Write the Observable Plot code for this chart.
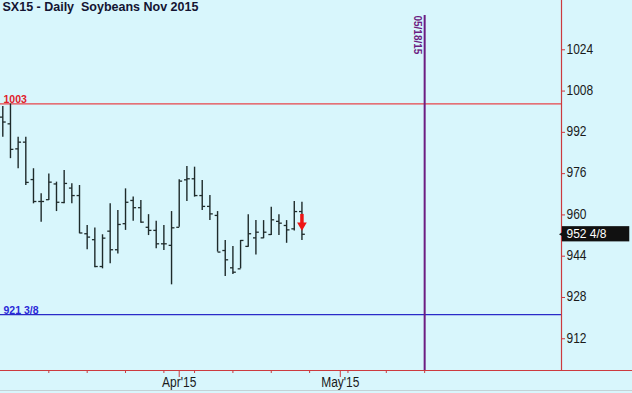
<!DOCTYPE html>
<html><head><meta charset="utf-8">
<script src="https://cdn.jsdelivr.net/npm/d3@7"></script>
<script src="https://cdn.jsdelivr.net/npm/@observablehq/plot@0.6"></script>
<style>html,body{margin:0;padding:0;background:#d8f6fc;overflow:hidden}</style>
</head><body><div id="chart"></div>
<script>
const title = "SX15 - Daily  Soybeans Nov 2015";
const dates = ["2015-02-27","2015-03-02","2015-03-03","2015-03-04","2015-03-05","2015-03-06",
  "2015-03-09","2015-03-10","2015-03-11","2015-03-12","2015-03-13",
  "2015-03-16","2015-03-17","2015-03-18","2015-03-19","2015-03-20",
  "2015-03-23","2015-03-24","2015-03-25","2015-03-26","2015-03-27",
  "2015-03-30","2015-03-31","2015-04-01","2015-04-02",
  "2015-04-06","2015-04-07","2015-04-08","2015-04-09","2015-04-10",
  "2015-04-13","2015-04-14","2015-04-15","2015-04-16","2015-04-17",
  "2015-04-20","2015-04-21","2015-04-22","2015-04-23","2015-04-24"];
const open  = [997.9,995.3,985.6,988.2,973.7,965.2,965.9,972.0,964.8,970.4,967.5,952.7,950.4,940.0,953.7,946.5,956.6,965.6,962.8,955.2,954.0,948.8,948.2,955.2,973.6,974.0,967.5,963.3,959.8,946.2,939.5,939.1,947.8,951.1,951.1,952.4,957.5,955.9,954.6,961.3];
const high  = [1002.0,1003.0,990.1,990.1,977.9,968.2,975.9,972.7,977.2,972.1,971.4,955.9,954.9,952.3,964.3,961.7,970.1,966.9,965.6,960.1,957.5,955.9,961.3,973.6,978.8,978.5,973.3,967.5,961.3,950.1,947.8,950.1,960.1,957.8,957.8,963.0,960.1,957.8,965.2,964.9];
const low   = [990.1,981.8,977.9,971.4,964.3,957.2,965.6,961.3,964.3,964.3,952.7,946.5,939.5,939.1,941.1,944.9,954.0,957.5,956.8,952.0,946.9,946.2,932.9,955.2,965.2,966.9,961.7,957.8,945.6,936.1,936.9,939.1,947.5,944.5,950.8,952.0,952.0,949.0,953.8,950.1];
const close = [996.0,985.4,988.2,972.6,965.2,965.2,972.7,964.9,972.2,967.5,953.0,951.4,940.0,951.0,946.5,956.3,964.9,962.8,957.2,954.0,948.8,948.8,955.0,973.1,974.0,967.5,963.3,960.4,945.6,942.6,937.8,950.1,952.7,953.3,953.3,958.1,956.8,954.2,961.3,952.5];
const holidays = ["2015-04-03"];
const yTicks = [912, 928, 944, 960, 976, 992, 1008, 1024];
const weekTicks = ["2015-03-09","2015-03-16","2015-03-23","2015-03-30","2015-04-06","2015-04-13","2015-04-20","2015-04-27","2015-05-04","2015-05-11","2015-05-18"];
const monthTicks = ["2015-04-01","2015-05-01"];
const monthLabels = ["Apr'15","May'15"];
const highLine = 1003, highLabel = "1003";
const lowLine = 921.375, lowLabel = "921 3/8";
const markerDate = "2015-05-18", markerLabel = "05/18/15", markerTop = 1037.3;
const lastLabel = "952 4/8";
const arrowFrom = 960.2, arrowTo = 956.6, arrowHead = 956.0;

// trading-day calendar (weekdays without exchange holidays)
const cal = [];
for (let d = new Date(Date.UTC(2015, 1, 27)); cal.length < 100; d.setUTCDate(d.getUTCDate() + 1)) {
  const s = d.toISOString().slice(0, 10), wd = d.getUTCDay();
  if (wd === 0 || wd === 6 || holidays.includes(s)) continue;
  cal.push(s);
}
const idx = s => cal.indexOf(s);
const bars = dates.map((d, k) => ({x: idx(d), o: open[k], h: high[k], l: low[k], c: close[k]}));
const last = bars[bars.length - 1];
const weekIdx = weekTicks.map(idx), monthIdx = monthTicks.map(idx);

const xDom = [-0.3, 72.84], yDom = [899.7, 1043.1];
const sans = "'Liberation Sans',Arial,sans-serif";
const axisRed = "#cc3a3e", barCol = "#1e2a2a", purple = "#6c1d82";

const chart = Plot.plot({
  width: 632, height: 393,
  marginTop: 0, marginLeft: 0, marginRight: 71, marginBottom: 23,
  style: {background: "#d8f6fc", fontFamily: sans, fontSize: "12px", color: "#111", overflow: "visible"},
  x: {type: "linear", domain: xDom, axis: null},
  y: {domain: yDom, axis: null},
  marks: [
    Plot.ruleY([yDom[0] - 7.75], {x1: xDom[0], x2: 83, stroke: "#c4d2d6", strokeWidth: 1}),
    Plot.ruleY([highLine], {x1: xDom[0], x2: xDom[1], stroke: "#e8454a", strokeWidth: 1.3}),
    Plot.ruleY([lowLine], {x1: xDom[0], x2: xDom[1], stroke: "#2a2ac8", strokeWidth: 1.2}),
    Plot.text([highLabel], {x: xDom[0], y: highLine, text: d => d, dx: 3, dy: -1, textAnchor: "start", lineAnchor: "bottom", fill: "#e0202a", fontWeight: "bold", fontSize: 10.5, fontFamily: sans}),
    Plot.text([lowLabel], {x: xDom[0], y: lowLine, text: d => d, dx: 3, dy: -1, textAnchor: "start", lineAnchor: "bottom", fill: "#2a2ad8", fontWeight: "bold", fontSize: 10.5, fontFamily: sans}),
    Plot.ruleX([idx(markerDate)], {y1: markerTop, y2: yDom[0], stroke: purple, strokeWidth: 2}),
    Plot.text([markerLabel], {x: idx(markerDate), y: markerTop, text: d => d, dx: -7, rotate: 90, textAnchor: "start", lineAnchor: "middle", fill: purple, fontWeight: "bold", fontSize: 10, fontFamily: sans}),
    Plot.ruleX(bars, {x: "x", y1: "l", y2: "h", stroke: barCol, strokeWidth: 1.4}),
    Plot.link(bars, {x1: d => d.x - 0.38, x2: "x", y1: "o", y2: "o", stroke: barCol, strokeWidth: 1.3}),
    Plot.link(bars, {x1: "x", x2: d => d.x + 0.38, y1: "c", y2: "c", stroke: barCol, strokeWidth: 1.3}),
    Plot.ruleX([last], {x: "x", y1: arrowFrom, y2: arrowTo, stroke: "#ee1515", strokeWidth: 3.5}),
    Plot.dot([last], {x: "x", y: arrowHead, symbol: "triangle", rotate: 180, r: 3.6, fill: "#ee1515"}),
    Plot.ruleX([xDom[1]], {y1: yDom[0], y2: yDom[1], stroke: axisRed, strokeWidth: 1.2}),
    Plot.ruleY([yDom[0]], {x1: xDom[0], x2: 83, stroke: axisRed, strokeWidth: 1.2}),
    Plot.axisY(yTicks, {anchor: "right", label: null, tickSize: 3, tickPadding: 2, stroke: axisRed, fill: "#1a1a1a", fontSize: 12, fontFamily: sans, tickFormat: d => String(d)}),
    Plot.axisX(weekIdx, {anchor: "bottom", label: null, tickSize: 3, stroke: axisRed, tickFormat: () => ""}),
    Plot.axisX(monthIdx, {anchor: "bottom", label: null, tickSize: 7, tickPadding: 1, stroke: axisRed, fill: "#1a1a1a", fontSize: 12, fontFamily: sans, tickFormat: d => monthLabels[monthIdx.indexOf(d)]}),
    Plot.rect([last], {x1: xDom[1] + 0.12, x2: xDom[1] + 8.9, y1: d => d.c - 2.95, y2: d => d.c + 2.95, fill: "#111"}),
    Plot.dot([last], {x: xDom[1], y: "c", symbol: "triangle", rotate: -90, r: 2.6, fill: "#111", dx: 1.5}),
    Plot.text([last], {x: xDom[1], y: "c", text: () => lastLabel, dx: 5, textAnchor: "start", fill: "#fff", fontSize: 12, fontFamily: sans, ariaLabel: "last-price"}),
    Plot.text([title], {frameAnchor: "top-left", dx: 2, dy: 2, lineAnchor: "top", fontWeight: "bold", fontSize: 12.5, fill: "#141432", fontFamily: sans})
  ]
});
// stretch the narrow, tall axis lettering of the reference vertically (about its own anchor)
const toPx = v => v == null || v === "" ? 0 : (String(v).endsWith("em") ? parseFloat(v) * 12 : parseFloat(v) || 0);
d3.select(chart).selectAll('g[aria-label="y-axis tick label"] text, g[aria-label="x-axis tick label"] text, g[aria-label="last-price"] text')
  .each(function() {
    const x = toPx(this.getAttribute("x")), y = toPx(this.getAttribute("y")), dy = toPx(this.getAttribute("dy"));
    const t = this.getAttribute("transform") || "";
    this.removeAttribute("x"); this.removeAttribute("y"); this.removeAttribute("dy");
    this.setAttribute("transform", `${t} translate(${x},${y + dy * 1.1}) scale(1,1.22)`);
  });
document.getElementById("chart").appendChild(chart);
</script>
</body></html>
